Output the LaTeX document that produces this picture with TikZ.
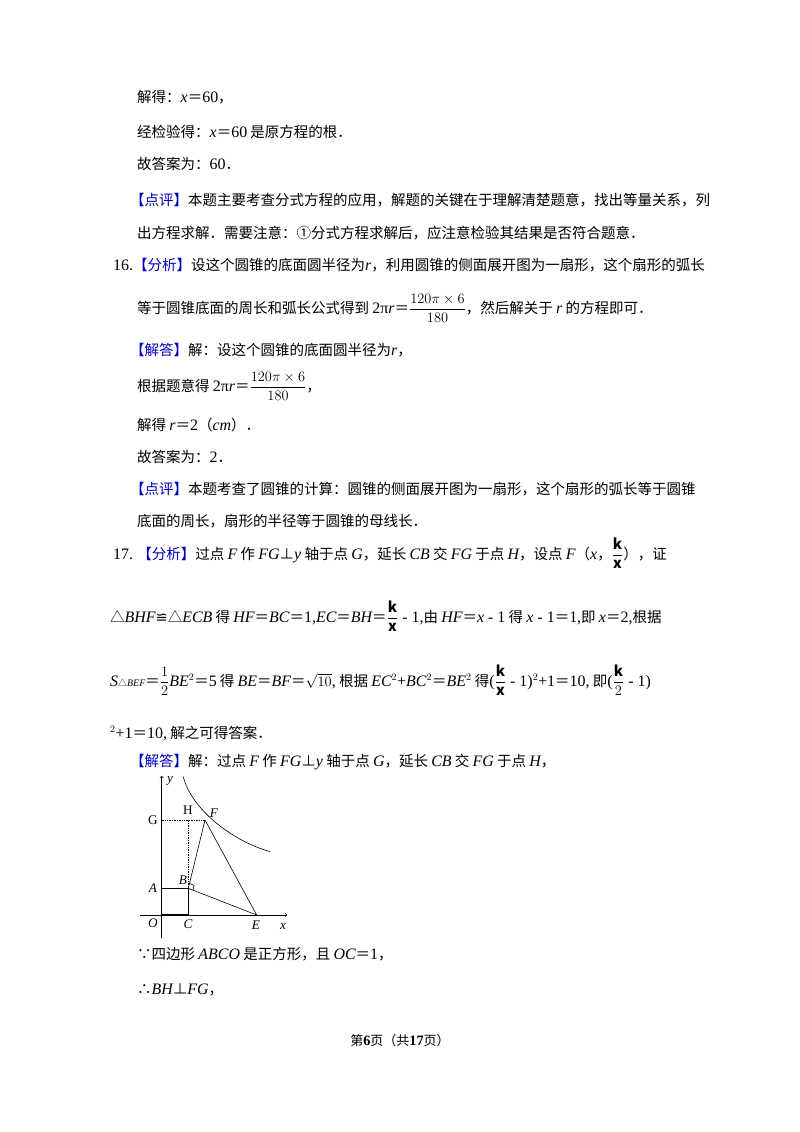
\documentclass[tikz,border=0pt]{standalone}
\usepackage{fontspec}
\usepackage{amsmath}
\usetikzlibrary{calc}
\setmainfont{Noto Sans CJK SC}
\newfontfamily\lat[Scale=1.1]{Liberation Serif}
\newfontfamily\dv{DejaVu Sans}
\newcommand{\mv}[1]{{\lat\itshape #1}}
\newcommand{\rn}[1]{{\lat #1}}
\newcommand{\bk}[1]{\textcolor{blue!75!black}{【#1】}}
\begin{document}
\begin{tikzpicture}[x=1pt,y=-1pt,
  txt/.style={anchor=base west,inner sep=0pt,font=\fontsize{14.5}{18}\selectfont},
  lab/.style={inner sep=0pt,font=\lat\fontsize{12}{14}\selectfont},
  ln/.style={line width=0.6pt},
  dot/.style={line width=0.7pt,densely dotted}]
\useasboundingbox[fill=white] (0,0) rectangle (800,1132);
\node[txt] (l1) at (137,102) {解得：\mv{x}＝\rn{60}，};
\node[txt] (l2) at (137,137) {经检验得：\mv{x}＝\rn{60} 是原方程的根．};
\node[txt] (l3) at (137,169) {故答案为：\rn{60}．};
\node[txt] (l4) at (130,205) {\bk{点评}本题主要考查分式方程的应用，解题的关键在于理解清楚题意，找出等量关系，列};
\node[txt] (l5) at (137,238) {出方程求解．需要注意：①分式方程求解后，应注意检验其结果是否符合题意．};
\node[txt] (l6) at (113,270) {\rn{16.}\bk{分析}设这个圆锥的底面圆半径为\mv{r}，利用圆锥的侧面展开图为一扇形，这个扇形的弧长};
\node[txt] (l7) at (137,313) {等于圆锥底面的周长和弧长公式得到 \rn{2π}\mv{r}＝$\dfrac{120\pi\times6}{180}$，然后解关于 \mv{r} 的方程即可．};
\node[txt] (l8) at (130,355) {\bk{解答}解：设这个圆锥的底面圆半径为\mv{r}，};
\node[txt] (l9) at (137,391) {根据题意得 \rn{2π}\mv{r}＝$\dfrac{120\pi\times6}{180}$，};
\node[txt] (l10) at (137,430) {解得 \mv{r}＝\rn{2}（\mv{cm}）．};
\node[txt] (l11) at (137,462) {故答案为：\rn{2}．};
\node[txt] (l12) at (130,494) {\bk{点评}本题考查了圆锥的计算：圆锥的侧面展开图为一扇形，这个扇形的弧长等于圆锥};
\node[txt] (l13) at (137,526) {底面的周长，扇形的半径等于圆锥的母线长．};
\node[txt] (l14) at (113,559) {\rn{17.} \bk{分析}过点 \mv{F} 作 \mv{FG}⊥\mv{y} 轴于点 \mv{G}，延长 \mv{CB} 交 \mv{FG} 于点 \mv{H}，设点 \mv{F}（\mv{x}，$\dfrac{\mathbf{k}}{\mathbf{x}}$），证};
\node[txt] (l15) at (110,622) {△\mv{BHF}{\dv ≌}△\mv{ECB} 得 \mv{HF}＝\mv{BC}＝\rn{1,}\mv{EC}＝\mv{BH}＝$\dfrac{\mathbf{k}}{\mathbf{x}}$\rn{ - 1,}由 \mv{HF}＝\mv{x}\rn{ - 1} 得 \mv{x}\rn{ - 1}＝\rn{1,}即 \mv{x}＝\rn{2,}根据};
\node[txt] (l16) at (110,686) {\mv{S}{\fontsize{9}{10}\selectfont △\mv{BEF}}＝$\dfrac{1}{2}$\mv{BE}$^2$＝\rn{5} 得 \mv{BE}＝\mv{BF}＝$\sqrt{10}$\rn{,} 根据 \mv{EC}$^2$\rn{+}\mv{BC}$^2$＝\mv{BE}$^2$ 得\rn{(}$\dfrac{\mathbf{k}}{\mathbf{x}}$\rn{ - 1)}$^2$\rn{+1}＝\rn{10,} 即\rn{(}$\dfrac{\mathbf{k}}{2}$\rn{ - 1)}};
\node[txt] (l17) at (110,738) {$^2$\rn{+1}＝\rn{10,} 解之可得答案．};
\node[txt] (l18) at (130,766) {\bk{解答}解：过点 \mv{F} 作 \mv{FG}⊥\mv{y} 轴于点 \mv{G}，延长 \mv{CB} 交 \mv{FG} 于点 \mv{H}，};
\node[txt] (l19) at (137,959) {∵四边形 \mv{ABCO} 是正方形，且 \mv{OC}＝\rn{1}，};
\node[txt] (l20) at (137,994) {∴\mv{BH}⊥\mv{FG}，};
\node[anchor=base,inner sep=0pt,font=\fontsize{13}{15}\selectfont] (ft) at (400,1045) {第\textbf{\rn{6}}页（共\textbf{\rn{17}}页）};
% figure
\coordinate (O) at (161.7,915); \coordinate (C) at (188.3,915);
\coordinate (A) at (161.7,888.3); \coordinate (B) at (188.3,888.3);
\coordinate (E) at (256.7,915); \coordinate (F) at (205,820);
\coordinate (G) at (161.7,820); \coordinate (H) at (188.3,820);
\coordinate (xa) at (140,915); \coordinate (xb) at (287,915);
\coordinate (ya) at (161.7,938); \coordinate (yb) at (161.7,776);
\draw[ln,->] (xa) -- (xb);
\draw[ln,->] (ya) -- (yb);
\draw[ln] (183.3,776.7) .. controls (191,808) and (230,840) .. (270,851.7);
\draw[ln] (A) -- (B);
\draw[line width=1.2pt] (O) -- (C) -- (B);
\draw[ln] (B) -- (F) -- (E) -- (B);
\draw[dot] (G) -- (F);
\draw[dot] (B) -- (H);
\draw[ln] ($(B)!5pt!(E)$) -- ($(B)!5pt!(E)+(B)!5pt!(F)-(B)$) -- ($(B)!5pt!(F)$);
\node[lab] (ly) at (170,781) {\itshape y};
\node[lab] (lx) at (283,926) {\itshape x};
\node[lab] (lO) at (153,923) {\itshape O};
\node[lab] (lC) at (188,924) {\itshape C};
\node[lab] (lE) at (256,925) {\itshape E};
\node[lab] (lA) at (153,888) {\itshape A};
\node[lab] (lB) at (183,880) {\itshape B};
\node[lab] (lG) at (153,820) {G};
\node[lab] (lH) at (188,810) {H};
\node[lab] (lF) at (214,813) {\itshape F};
\end{tikzpicture}
\end{document}
